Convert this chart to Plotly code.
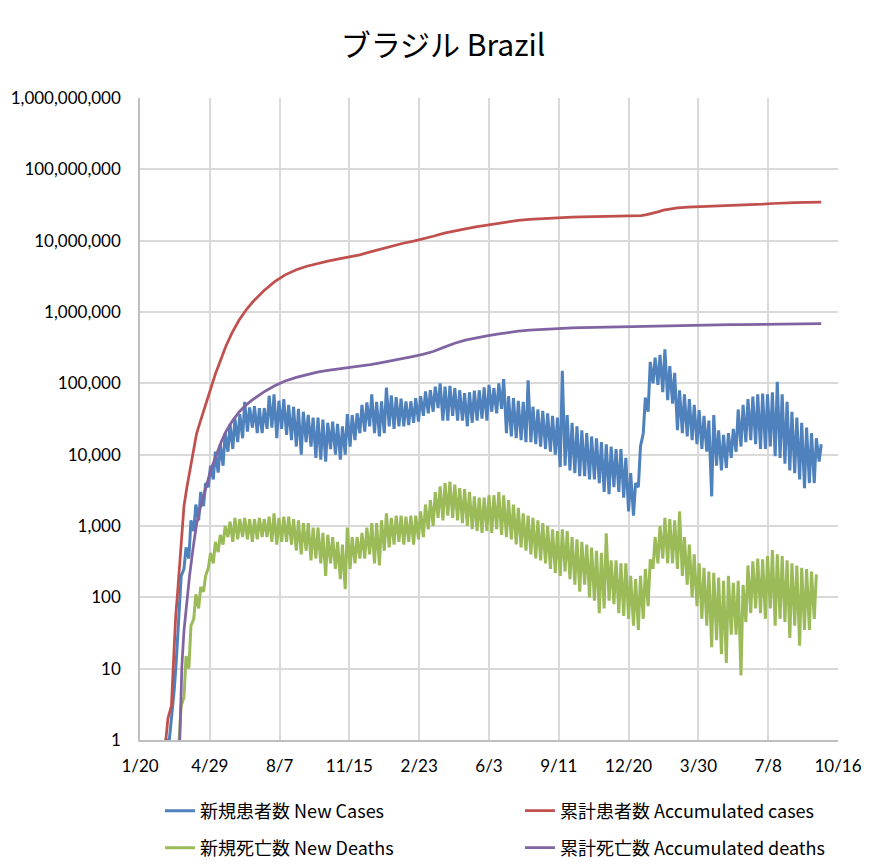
import pandas as pd
import plotly.graph_objects as go

# ---------------- data ----------------
# Weekly low / high of daily new cases; weeks start on Monday 2020-02-24
cases_week_start = "2020-02-24"
cases_low = [
    1, 1, 5, 60, 250, 350, 850, 1200, 1900, 3500,
    4500, 5600, 7000, 11000, 12000, 15000, 17000, 21000, 24000, 20000,
    20000, 23000, 24000, 17000, 23000, 19000, 16000, 13000, 10000, 15000,
    13000, 9000, 8500, 8000, 12000, 10000, 8500, 10000, 13000, 16000,
    20000, 21000, 25000, 20000, 18000, 20000, 25000, 23000, 25000, 25000,
    26000, 28000, 29000, 35000, 38000, 40000, 45000, 30000, 30000, 35000,
    30000, 30000, 25000, 28000, 30000, 32000, 30000, 40000, 38000, 44000,
    20000, 18000, 17000, 16000, 15000, 15000, 14000, 13000, 12000, 11000,
    10000, 6700, 7000, 6000, 5500, 5000, 5000, 4500, 4500, 4000,
    3000, 2800, 3500, 3000, 2500, 1600, 1400, 3500, 20000, 40000,
    100000, 95000, 75000, 58000, 52000, 22000, 20000, 18000, 16000, 14000,
    12000, 11000, 2600, 7000, 6000, 6500, 9000, 11000, 13000, 15000,
    16000, 14000, 12000, 12000, 13000, 9500, 9000, 7500, 6000, 5500,
    4500, 3400, 4000, 4000, 8000,
]
cases_high = [
    1, 2, 13, 200, 500, 1200, 2000, 3000, 4000, 7000,
    11000, 14000, 20000, 27000, 32000, 37000, 55000, 46000, 48000, 45000,
    45000, 67000, 70000, 57000, 60000, 50000, 47000, 44000, 40000, 36000,
    33000, 33000, 31000, 28000, 29000, 27000, 25000, 37000, 36000, 38000,
    50000, 54000, 70000, 55000, 56000, 87000, 68000, 64000, 61000, 56000,
    56000, 62000, 66000, 77000, 80000, 90000, 100000, 90000, 92000, 86000,
    80000, 73000, 75000, 79000, 80000, 88000, 95000, 86000, 100000, 115000,
    66000, 62000, 57000, 55000, 110000, 47000, 43000, 41000, 38000, 35000,
    33000, 150000, 36000, 28000, 25000, 22000, 20000, 18000, 17000, 15000,
    14000, 13000, 12000, 12000, 9000, 5500, 4000, 13000, 63000, 200000,
    230000, 250000, 300000, 175000, 140000, 80000, 70000, 60000, 50000, 42000,
    35000, 30000, 36000, 22000, 19000, 20000, 23000, 43000, 50000, 60000,
    65000, 70000, 72000, 70000, 75000, 105000, 70000, 55000, 40000, 33000,
    28000, 24000, 20000, 17000, 14000,
]

# Weekly low / high of daily new deaths; weeks start on Monday 2020-03-16
deaths_week_start = "2020-03-16"
deaths_low = [
    1, 4, 10, 50, 70, 120, 260, 300, 430, 550,
    700, 600, 650, 700, 650, 600, 650, 700, 700, 600,
    550, 600, 600, 550, 450, 400, 450, 330, 350, 300,
    200, 300, 250, 180, 130, 250, 300, 350, 350, 400,
    300, 280, 450, 500, 550, 600, 550, 600, 550, 650,
    700, 900, 1000, 1300, 1200, 1400, 1300, 1200, 1100, 1000,
    900, 850, 800, 850, 800, 900, 750, 700, 650, 550,
    500, 450, 400, 350, 330, 300, 250, 220, 200, 230,
    180, 150, 120, 150, 100, 90, 60, 70, 90, 80,
    60, 55, 50, 40, 35, 50, 75, 250, 300, 350,
    300, 300, 250, 200, 150, 100, 75, 50, 40, 20,
    25, 16, 12, 30, 30, 8, 45, 60, 70, 60,
    50, 70, 40, 50, 45, 27, 40, 21, 35, 35,
    50,
]
deaths_high = [
    3, 15, 40, 110, 140, 200, 420, 600, 750, 1000,
    1150, 1300, 1250, 1300, 1250, 1250, 1300, 1250, 1350, 1500,
    1300, 1350, 1350, 1250, 1200, 1100, 1100, 950, 950, 800,
    750, 700, 600, 550, 950, 700, 700, 800, 950, 1100,
    1100, 1200, 1500, 1300, 1400, 1400, 1350, 1400, 1400, 1600,
    2000, 2300, 3000, 3600, 4000, 4200, 3800, 3400, 3300, 3000,
    2600, 2500, 2500, 2700, 2700, 3000, 2700, 2300, 2000, 1800,
    1500, 1400, 1300, 1200, 1100, 1000, 900, 850, 900, 850,
    700, 650, 600, 550, 500, 450, 420, 790, 330, 330,
    300, 300, 200, 180, 200, 250, 340, 700, 1000, 1300,
    1250, 1200, 1600, 700, 550, 400, 300, 260, 230, 220,
    190, 170, 200, 160, 170, 150, 280, 320, 350, 340,
    380, 460, 400, 380, 330, 300, 280, 260, 250, 230,
    210, 120,
]

# Accumulated cases
cum_case_dates = [
    "2020-02-26", "2020-02-29", "2020-03-05", "2020-03-08", "2020-03-11", "2020-03-14",
    "2020-03-17", "2020-03-20", "2020-03-23", "2020-03-27", "2020-03-31", "2020-04-05",
    "2020-04-10", "2020-04-15", "2020-04-20", "2020-04-25", "2020-04-30", "2020-05-07",
    "2020-05-15", "2020-05-22", "2020-05-31", "2020-06-10", "2020-06-20", "2020-06-30",
    "2020-07-15", "2020-07-31", "2020-08-15", "2020-08-31", "2020-09-15", "2020-09-30",
    "2020-10-15", "2020-10-31", "2020-11-15", "2020-11-30", "2020-12-15", "2020-12-31",
    "2021-01-15", "2021-01-31", "2021-02-15", "2021-02-28", "2021-03-15", "2021-03-31",
    "2021-04-15", "2021-04-30", "2021-05-15", "2021-05-31", "2021-06-15", "2021-06-30",
    "2021-07-15", "2021-07-31", "2021-08-15", "2021-08-31", "2021-09-15", "2021-09-30",
    "2021-10-15", "2021-10-31", "2021-11-15", "2021-11-30", "2021-12-15", "2021-12-31",
    "2022-01-07", "2022-01-15", "2022-01-23", "2022-01-31", "2022-02-08", "2022-02-15",
    "2022-02-28", "2022-03-15", "2022-03-31", "2022-04-15", "2022-04-30", "2022-05-15",
    "2022-05-31", "2022-06-15", "2022-06-30", "2022-07-15", "2022-07-31", "2022-08-15",
    "2022-08-31", "2022-09-15", "2022-09-22",
]
cum_case_values = [
    1, 2, 3, 13, 52, 121,
    291, 904, 1891, 3417, 5717, 11130,
    19638, 28320, 40581, 58509, 85380, 135106,
    218223, 330890, 514849, 772416, 1067579, 1402041,
    1966748, 2662485, 3317096, 3908272, 4382263, 4810935,
    5169386, 5545705, 5863093, 6335878, 6970034, 7675973,
    8393492, 9204731, 9866710, 10517232, 11519609, 12748747,
    13746681, 14659011, 15586534, 16515120, 17533221, 18557141,
    19262518, 19917855, 20364099, 20752281, 21034610, 21427073,
    21612237, 21810855, 21960766, 22084749, 22201221, 22287521,
    22450222, 23215551, 24044437, 25348797, 26776620, 27659052,
    28796571, 29483000, 29882397, 30183000, 30448240, 30701000,
    31062917, 31611000, 32421059, 33190000, 33890428, 34201000,
    34406000, 34570000, 34640000,
]

# Accumulated deaths
cum_death_dates = [
    "2020-03-17", "2020-03-20", "2020-03-23", "2020-03-27", "2020-03-31", "2020-04-05",
    "2020-04-10", "2020-04-15", "2020-04-20", "2020-04-25", "2020-04-30", "2020-05-07",
    "2020-05-15", "2020-05-22", "2020-05-31", "2020-06-10", "2020-06-20", "2020-06-30",
    "2020-07-15", "2020-07-31", "2020-08-15", "2020-08-31", "2020-09-15", "2020-09-30",
    "2020-10-15", "2020-10-31", "2020-11-15", "2020-11-30", "2020-12-15", "2020-12-31",
    "2021-01-15", "2021-01-31", "2021-02-15", "2021-02-28", "2021-03-15", "2021-03-31",
    "2021-04-15", "2021-04-30", "2021-05-15", "2021-05-31", "2021-06-15", "2021-06-30",
    "2021-07-15", "2021-07-31", "2021-08-15", "2021-08-31", "2021-09-15", "2021-09-30",
    "2021-10-15", "2021-10-31", "2021-11-15", "2021-11-30", "2021-12-15", "2021-12-31",
    "2022-01-15", "2022-01-31", "2022-02-15", "2022-02-28", "2022-03-15", "2022-03-31",
    "2022-04-15", "2022-04-30", "2022-05-15", "2022-05-31", "2022-06-15", "2022-06-30",
    "2022-07-15", "2022-07-31", "2022-08-15", "2022-08-31", "2022-09-15", "2022-09-22",
]
cum_death_values = [
    1, 11, 34, 92, 201, 486,
    1057, 1736, 2575, 4016, 5901, 9146,
    14817, 21048, 29314, 39680, 49976, 59594,
    75366, 92475, 107852, 121381, 133119, 143952,
    152460, 159884, 165798, 173120, 182799, 194949,
    207095, 224504, 239245, 254942, 279286, 321515,
    365444, 403781, 434715, 462791, 488228, 518066,
    538942, 556370, 569058, 580413, 588597, 596749,
    602201, 607694, 611283, 614278, 617271, 619056,
    620641, 627138, 640276, 649437, 655940, 660108,
    662000, 663736, 664958, 666453, 668693, 671416,
    675320, 678375, 681400, 683851, 685300, 685800,
]

x_tick_dates = ["2020-01-20", "2020-04-29", "2020-08-07", "2020-11-15", "2021-02-23",
                "2021-06-03", "2021-09-11", "2021-12-20", "2022-03-30", "2022-07-08",
                "2022-10-16"]
x_tick_labels = ["1/20", "4/29", "8/7", "11/15", "2/23", "6/3", "9/11", "12/20",
                 "3/30", "7/8", "10/16"]
y_tick_vals = [1, 10, 100, 1000, 10000, 100000, 1000000, 10000000, 100000000, 1000000000]
y_tick_labels = ["1", "10", "100", "1,000", "10,000", "100,000", "1,000,000",
                 "10,000,000", "100,000,000", "1,000,000,000"]

names = ["新規患者数 New Cases", "累計患者数 Accumulated cases",
         "新規死亡数 New Deaths", "累計死亡数 Accumulated deaths"]
colors = ["#4F81BD", "#C0504D", "#9BBB59", "#8064A2"]


def weekly_zigzag(start, lows, highs):
    """Low reported at the start of each week, high three days later."""
    xs, ys = [], []
    base = pd.Timestamp(start)
    for i, (lo, hi) in enumerate(zip(lows, highs)):
        d = base + pd.Timedelta(days=7 * i)
        xs += [d, d + pd.Timedelta(days=3)]
        ys += [lo, hi]
    return xs, ys


nc_x, nc_y = weekly_zigzag(cases_week_start, cases_low, cases_high)
nd_x, nd_y = weekly_zigzag(deaths_week_start, deaths_low, deaths_high)

fig = go.Figure()
fig.add_trace(go.Scatter(x=nc_x, y=nc_y, mode="lines", name=names[0],
                         line=dict(color=colors[0], width=3), legend="legend"))
fig.add_trace(go.Scatter(x=pd.to_datetime(cum_case_dates), y=cum_case_values, mode="lines",
                         name=names[1], line=dict(color=colors[1], width=2.75),
                         legend="legend2"))
fig.add_trace(go.Scatter(x=nd_x, y=nd_y, mode="lines", name=names[2],
                         line=dict(color=colors[2], width=3), legend="legend3"))
fig.add_trace(go.Scatter(x=pd.to_datetime(cum_death_dates), y=cum_death_values, mode="lines",
                         name=names[3], line=dict(color=colors[3], width=2.75),
                         legend="legend4"))

grid = "#D9D9D9"
axis_font = dict(family="Lato, Liberation Sans, sans-serif", size=17, color="#000000")


def legend_at(x, y):
    return dict(orientation="h", xanchor="left", yanchor="middle", x=x, y=y,
                font=dict(family="Noto Sans CJK JP", size=18, color="#000000"),
                bgcolor="rgba(0,0,0,0)", borderwidth=0, itemclick=False)


fig.update_layout(
    width=886, height=868,
    margin=dict(l=140, r=48, t=98, b=128, autoexpand=False),
    paper_bgcolor="white", plot_bgcolor="white",
    title=dict(text="ブラジル Brazil", x=0.5, xanchor="center", y=0.948, yanchor="middle",
               font=dict(family="Noto Sans CJK JP", size=30, color="#000000")),
    xaxis=dict(type="date", range=["2020-01-20", "2022-10-16"],
               tickvals=pd.to_datetime(x_tick_dates), ticktext=x_tick_labels,
               showgrid=True, gridcolor=grid, gridwidth=1.5,
               showline=True, linecolor="#BFBFBF", linewidth=1.5, automargin=False,
               ticks="", ticklabelstandoff=10, tickfont=axis_font, zeroline=False),
    yaxis=dict(type="log", range=[0, 9],
               tickvals=y_tick_vals, ticktext=y_tick_labels,
               showgrid=True, gridcolor=grid, gridwidth=1.5,
               showline=True, linecolor="#BFBFBF", linewidth=1.5, automargin=False,
               ticks="", ticklabelstandoff=14, tickfont=axis_font, zeroline=False),
    legend=legend_at(0.0287, -0.1106),
    legend2=legend_at(0.5444, -0.1106),
    legend3=legend_at(0.0287, -0.1682),
    legend4=legend_at(0.5444, -0.1682),
    showlegend=True,
)

# the page's default 8px body margin would offset the whole chart
fig.write_html("out.html", config={"displayModeBar": False},
               post_script="document.body.style.margin='0';")
